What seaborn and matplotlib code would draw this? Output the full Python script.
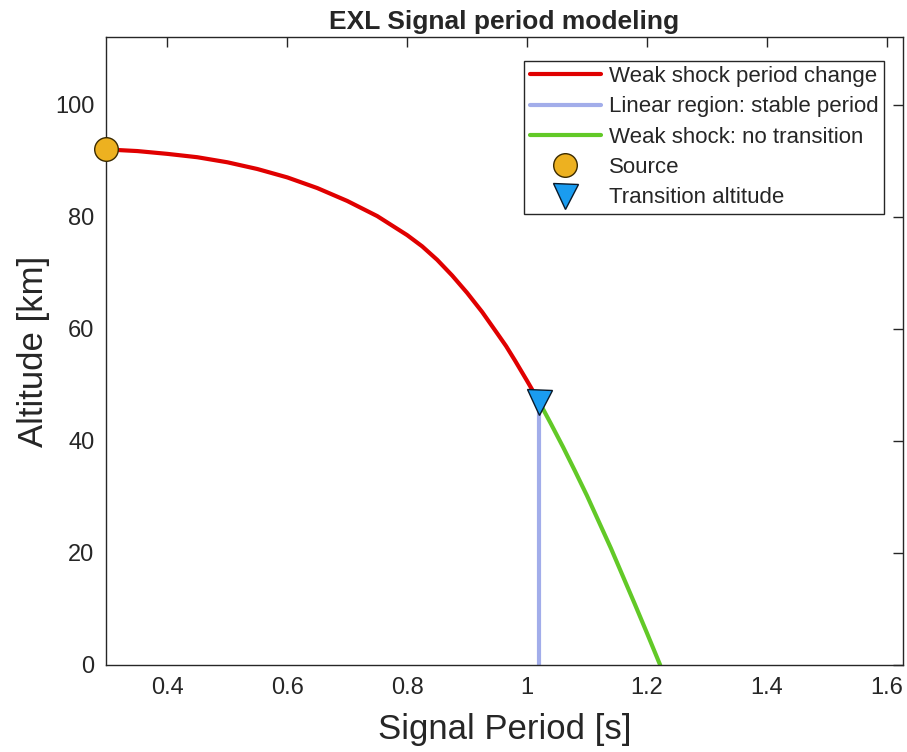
import matplotlib
matplotlib.use("Agg")
import matplotlib.pyplot as plt
import seaborn as sns
import pandas as pd

# Weak-shock branch above the transition altitude
shock_period = [0.297, 0.35, 0.40, 0.45, 0.50, 0.55, 0.60, 0.65, 0.70, 0.75,
                0.80, 0.825, 0.85, 0.875, 0.90, 0.925, 0.95, 0.965, 0.98, 1.00, 1.02]
shock_alt = [92.0, 91.7, 91.2, 90.6, 89.7, 88.5, 87.0, 85.1, 82.8, 80.1,
             76.7, 74.7, 72.3, 69.5, 66.4, 63.0, 59.2, 56.9, 54.3, 50.7, 47.0]

# Linear region below the transition: period stays constant
linear_period = [1.020, 1.020]
linear_alt = [0.0, 47.0]

# Weak-shock continuation assuming no transition
noshock_period = [1.02, 1.04, 1.06, 1.08, 1.10, 1.12, 1.14, 1.16, 1.18, 1.20, 1.222]
noshock_alt = [47.0, 43.0, 38.9, 34.6, 30.2, 25.5, 20.8, 15.8, 10.8, 5.7, 0.0]

source_period = [0.297]
source_alt = [92.0]
transition_period = [1.020]
transition_alt = [47.0]

labels = ["Weak shock period change", "Linear region: stable period",
          "Weak shock: no transition", "Source", "Transition altitude"]

sns.set_style("white")
plt.rcParams["font.family"] = ["Liberation Sans", "DejaVu Sans"]

fig = plt.figure(figsize=(9.07, 7.52), dpi=100)
ax = fig.add_axes([0.1165, 0.1157, 0.8790, 0.8347])

shock = pd.DataFrame({"T": shock_period, "z": shock_alt})
linear = pd.DataFrame({"T": linear_period, "z": linear_alt})
noshock = pd.DataFrame({"T": noshock_period, "z": noshock_alt})

sns.lineplot(data=shock, x="T", y="z", sort=False, estimator=None, color="#e00000",
             lw=3, ax=ax, label=labels[0])
sns.lineplot(data=linear, x="T", y="z", sort=False, estimator=None, color="#a2adea",
             lw=3, ax=ax, label=labels[1])
sns.lineplot(data=noshock, x="T", y="z", sort=False, estimator=None, color="#62c927",
             lw=3, ax=ax, label=labels[2])
ax.plot(source_period, source_alt, ls="none", marker="o", ms=17,
        mfc="#edb120", mec="#3a2a00", mew=1.0, label=labels[3], clip_on=False, zorder=5)
ax.plot(transition_period, transition_alt, ls="none", marker="v", ms=18,
        mfc="#1a9cf0", mec="#0a1a2a", mew=1.0, label=labels[4], clip_on=False, zorder=5)

ax.set_xlim(0.297, 1.627)
ax.set_ylim(0, 112)
ax.set_xticks([0.4, 0.6, 0.8, 1.0, 1.2, 1.4, 1.6])
ax.set_xticklabels(["0.4", "0.6", "0.8", "1", "1.2", "1.4", "1.6"])
ax.set_yticks([0, 20, 40, 60, 80, 100])

ax.tick_params(direction="in", length=7, width=1.0, color="#262626",
               labelsize=17, labelcolor="#262626", top=True, right=True, pad=9)
ax.tick_params(axis="y", pad=8)
for s in ax.spines.values():
    s.set_color("#262626")
    s.set_linewidth(1.0)
    s.set_visible(True)

ax.set_xlabel("Signal Period [s]", fontsize=25, color="#262626", labelpad=10)
ax.set_ylabel("Altitude [km]", fontsize=25, color="#262626", labelpad=4)
ax.set_title("EXL Signal period modeling", fontsize=19, fontweight="bold", pad=6)

leg = ax.legend(loc="upper right", bbox_to_anchor=(0.976, 0.963), fontsize=16,
                frameon=True, fancybox=False, edgecolor="#262626", framealpha=1,
                handlelength=3.2, handletextpad=0.35, borderpad=0.25, labelspacing=0.42,
                borderaxespad=0)
leg.get_frame().set_linewidth(1.0)

fig.savefig("out.png", dpi=100)
